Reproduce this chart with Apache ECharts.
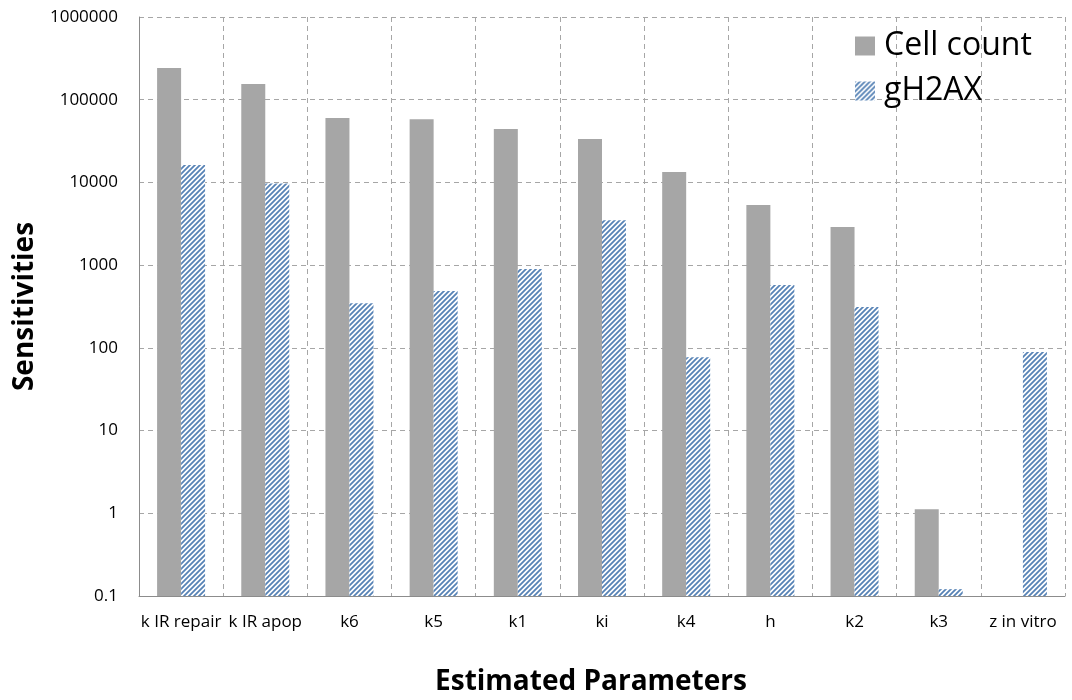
<!DOCTYPE html>
<html>
<head>
<meta charset="utf-8">
<script src="https://cdn.jsdelivr.net/npm/echarts@6/dist/echarts.min.js"></script>
<style>
  html, body { margin: 0; padding: 0; background: #fff; }
  #chart { width: 1072px; height: 700px; }
</style>
</head>
<body>
<div id="chart"></div>
<script>
const categories = ['k IR repair', 'k IR apop', 'k6', 'k5', 'k1', 'ki', 'k4', 'h', 'k2', 'k3', 'z in vitro'];
const cellCount = [241000, 155000, 60000, 58000, 44300, 33500, 13400, 5330, 2890, 1.12, null];
const gH2AX = [16200, 9700, 345, 487, 897, 3500, 77, 575, 311, 0.121, 89];

const axisMin = 0.1;
const fontFamily = '"Open Sans", Lato, sans-serif';

// diagonal stripe fill for the gH2AX bars
function makeHatch() {
    const s = 5;
    const c = document.createElement('canvas');
    c.width = s;
    c.height = s;
    const ctx = c.getContext('2d');
    ctx.fillStyle = '#ffffff';
    ctx.fillRect(0, 0, s, s);
    ctx.strokeStyle = '#5783b6';
    ctx.lineWidth = 1.8;
    ctx.beginPath();
    ctx.moveTo(-1, s + 1);
    ctx.lineTo(s + 1, -1);
    ctx.moveTo(-1, 1);
    ctx.lineTo(1, -1);
    ctx.moveTo(s - 1, s + 1);
    ctx.lineTo(s + 1, s - 1);
    ctx.stroke();
    return c;
}

// log axis bars grow from 1 by default, so lift them off an invisible
// base at the axis minimum
const baseData = categories.map(() => axisMin);
const onBase = arr => arr.map(v => (v == null ? null : v - axisMin));

const chart = echarts.init(document.getElementById('chart'));

chart.setOption({
    animation: false,
    textStyle: { fontFamily: fontFamily },
    grid: {
        left: 139,
        right: 7,
        top: 17,
        bottom: 104,
        containLabel: false,
        outerBoundsMode: 'none'
    },
    legend: {
        orient: 'vertical',
        left: 850,
        top: 25,
        icon: 'rect',
        itemWidth: 20,
        itemHeight: 19,
        itemGap: 13,
        textStyle: { fontSize: 32, color: '#000', fontFamily: fontFamily, padding: [0, 0, 0, 4] },
        data: ['Cell count', 'gH2AX']
    },
    xAxis: {
        type: 'category',
        data: categories,
        name: 'Estimated Parameters',
        nameLocation: 'middle',
        nameGap: 72,
        nameTextStyle: { fontSize: 28, fontWeight: 'bold', color: '#000', padding: [0, 22, 0, 0] },
        axisLine: { lineStyle: { color: '#8c8c8c', width: 1 } },
        axisTick: { show: false },
        axisLabel: { interval: 0, fontSize: 17, color: '#000', margin: 18 },
        splitLine: {
            show: true,
            interval: 0,
            lineStyle: { color: '#a6a6a6', type: [5, 4], width: 1 }
        }
    },
    yAxis: {
        type: 'log',
        logBase: 10,
        min: axisMin,
        max: 1000000,
        name: 'Sensitivities',
        nameLocation: 'middle',
        nameGap: 100,
        nameTextStyle: { fontSize: 28, fontWeight: 'bold', color: '#000' },
        axisLine: { show: true, lineStyle: { color: '#8c8c8c', width: 1 } },
        axisTick: { show: false },
        axisLabel: {
            fontSize: 17,
            color: '#000',
            margin: 21,
            formatter: v => String(Number(v.toPrecision(6)))
        },
        splitLine: {
            show: true,
            lineStyle: { color: '#a6a6a6', type: [5, 4], width: 1 }
        }
    },
    series: [
        {
            name: 'baseA',
            type: 'bar',
            stack: 'cell',
            data: baseData,
            barWidth: 24,
            barGap: '0%',
            silent: true,
            itemStyle: { color: 'rgba(0,0,0,0)' }
        },
        {
            name: 'Cell count',
            type: 'bar',
            stack: 'cell',
            data: onBase(cellCount),
            barWidth: 24,
            barGap: '0%',
            itemStyle: { color: '#a6a6a6' }
        },
        {
            name: 'baseB',
            type: 'bar',
            stack: 'gh',
            data: baseData,
            barWidth: 24,
            barGap: '0%',
            silent: true,
            itemStyle: { color: 'rgba(0,0,0,0)' }
        },
        {
            name: 'gH2AX',
            type: 'bar',
            stack: 'gh',
            data: onBase(gH2AX),
            barWidth: 24,
            barGap: '0%',
            itemStyle: { color: { image: makeHatch(), repeat: 'repeat' } }
        }
    ]
});
</script>
</body>
</html>
